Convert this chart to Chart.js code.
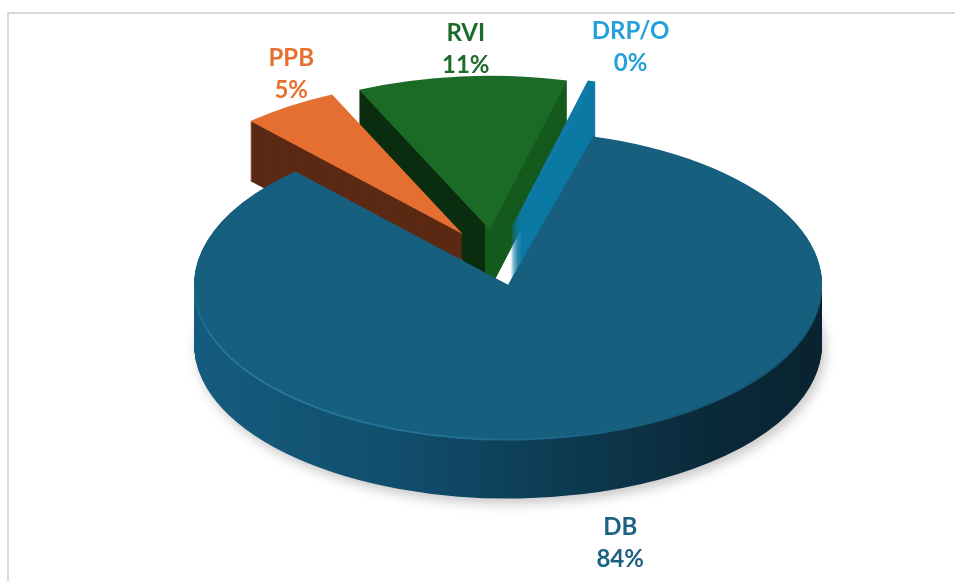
<!DOCTYPE html>
<html>
<head>
<meta charset="utf-8">
<script src="https://cdn.jsdelivr.net/npm/chart.js@4/dist/chart.umd.min.js"></script>
<style>
  html, body { margin: 0; padding: 0; background: #fff; }
  #wrap { position: relative; width: 955px; height: 581px; overflow: hidden; }
  #frame { position: absolute; left: 7px; top: 12px; width: 1000px; height: 700px;
           border-left: 2px solid #d9d9d9; border-top: 2px solid #d9d9d9; }
  #pie { position: absolute; left: 0; top: 0; }
</style>
</head>
<body>
<div id="wrap">
  <div id="frame"></div>
  <canvas id="pie" width="955" height="581"></canvas>
</div>
<script>
// shares of each category, in percent
var categories = ['DB', 'PPB', 'RVI', 'DRP/O'];
var shares = [83.8, 5.0, 10.8, 0.4];

var topColors = ['#165f7f', '#e56f30', '#1b6b26', '#0e7aa5'];
var textColors = ['#1d6183', '#e8702f', '#1d6b2a', '#25a0d8'];

(function () {
	var squash = 0.49;       // vertical tilt of the pie
	var depth = 60;          // thickness of the pie in px
	var centerY = 258;       // screen y of the pie centre
	var explode = [56, 58, 58, 60];
	var labelNudge = [[40, 12], [0, 0], [4, 11], [40, 3]];
	var drawOrder = [2, 1, 3, 0];

	var ctx = document.getElementById('pie').getContext('2d');

	function sideFill(i, arc, ex) {
		var g;
		if (i === 0) {
			g = ctx.createLinearGradient(195, 0, 822, 0);
			g.addColorStop(0, '#155b7d');
			g.addColorStop(0.3, '#114e6c');
			g.addColorStop(0.55, '#0d3c53');
			g.addColorStop(0.8, '#0a2a3a');
			g.addColorStop(1, '#09222e');
			return g;
		}
		if (i === 2) {
			var mid = (arc.startAngle + arc.endAngle) / 2;
			var ax = arc.x + Math.cos(mid) * ex;
			g = ctx.createLinearGradient(0, 0, 955, 0);
			g.addColorStop(0, '#0a2d0f');
			g.addColorStop(ax / 955, '#0a2d0f');
			g.addColorStop(ax / 955 + 0.001, '#145a1d');
			g.addColorStop(1, '#145a1d');
			return g;
		}
		if (i === 1) return '#5c2a14';
		return '#0c79a4';
	}

	function layer(chart, arc, ex, shiftY, fill, shadow) {
		var dpr = chart.currentDevicePixelRatio;
		var mid = (arc.startAngle + arc.endAngle) / 2;
		ctx.save();
		ctx.setTransform(dpr, 0, 0, dpr * squash, 0, dpr * (centerY + shiftY - squash * arc.y));
		ctx.translate(Math.cos(mid) * ex, Math.sin(mid) * ex);
		if (shadow) {
			ctx.shadowColor = 'rgba(0,0,0,0.22)';
			ctx.shadowBlur = 12;
			ctx.shadowOffsetX = 3;
			ctx.shadowOffsetY = 5;
		}
		var f = Object.create(arc);
		f.options = Object.assign({}, arc.options, {backgroundColor: fill, borderWidth: 0, offset: 0});
		f.draw(ctx);
		ctx.restore();
	}

	var pie3d = {
		id: 'pie3d',
		beforeDatasetsDraw: function (chart) {
			var arcs = chart.getDatasetMeta(0).data;
			drawOrder.forEach(function (i) {
				var arc = arcs[i];
				var ex = explode[i];
				var fill = sideFill(i, arc, ex);
				for (var d = depth; d >= 1; d--) {
					layer(chart, arc, ex, d, fill, i === 0 && d === depth);
				}
				if (i === 0) {
					var rim = ctx.createLinearGradient(195, 0, 822, 0);
					rim.addColorStop(0, '#2a7ea5');
					rim.addColorStop(0.5, '#1d6a8e');
					rim.addColorStop(1, '#124a63');
					layer(chart, arc, ex, 2, rim, false);
				}
				layer(chart, arc, ex, 0, topColors[i], false);
			});
			return false;
		},
		afterDraw: function (chart) {
			var arcs = chart.getDatasetMeta(0).data;
			var total = shares.reduce(function (a, b) { return a + b; }, 0);
			ctx.save();
			ctx.font = 'bold 24px Lato, "Open Sans", sans-serif';
			ctx.textAlign = 'center';
			ctx.textBaseline = 'middle';
			arcs.forEach(function (arc, i) {
				var mid = (arc.startAngle + arc.endAngle) / 2;
				var c = Math.cos(mid), s = Math.sin(mid);
				var cx = arc.x + c * explode[i];
				var cy = centerY + s * explode[i] * squash;
				var x = cx + c * 310 + labelNudge[i][0];
				var y = cy + s * 310 * 0.62 + (s > 0 ? depth : 0) + labelNudge[i][1];
				ctx.fillStyle = textColors[i];
				ctx.fillText(categories[i], x, y - 16);
				ctx.fillText(Math.round(shares[i] / total * 100) + '%', x, y + 16);
			});
			ctx.restore();
		}
	};

	new Chart(ctx, {
		type: 'pie',
		data: {
			labels: categories,
			datasets: [{
				data: shares,
				backgroundColor: topColors,
				borderWidth: 0
			}]
		},
		options: {
			responsive: false,
			animation: false,
			rotation: 15.7,
			radius: 314,
			layout: { padding: { left: 35 } },
			plugins: {
				legend: { display: false },
				tooltip: { enabled: false }
			}
		},
		plugins: [pie3d]
	});
})();
</script>
</body>
</html>
